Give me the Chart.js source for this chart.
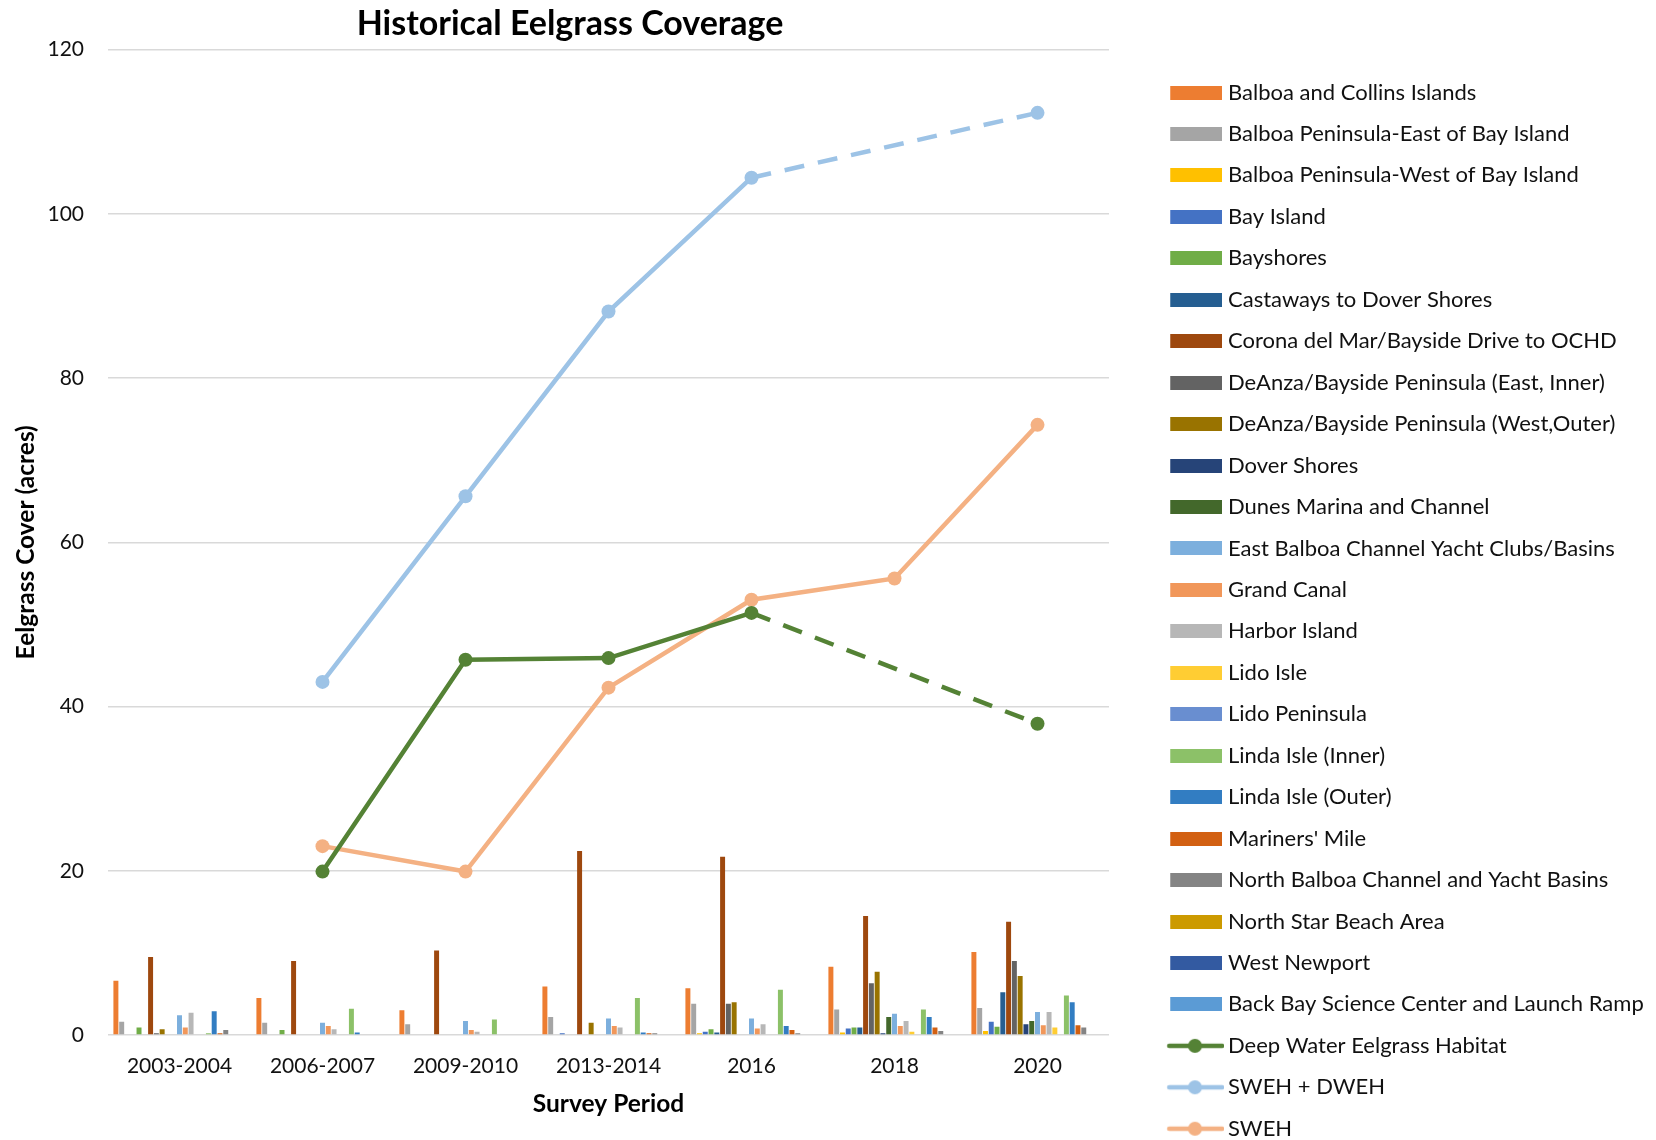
<!DOCTYPE html>
<html>
<head>
<meta charset="utf-8">
<script src="https://cdn.jsdelivr.net/npm/chart.js@4/dist/chart.umd.min.js"></script>
<style>
html,body{margin:0;padding:0;background:#fff;}
#wrap{width:1656px;height:1140px;position:relative;}
</style>
</head>
<body>
<div id="wrap"><canvas id="c" width="1656" height="1140"></canvas></div>
<script>
// ---------------- DATA ----------------
const chartTitle = 'Historical Eelgrass Coverage';
const xAxisTitle = 'Survey Period';
const yAxisTitle = 'Eelgrass Cover (acres)';
const categories = ['2003-2004', '2006-2007', '2009-2010', '2013-2014', '2016', '2018', '2020'];

const balboaCollins      = [6.6, 4.5, 3.0, 5.9, 5.7, 8.3, 10.1];
const balboaPenEast      = [1.6, 1.5, 1.3, 2.2, 3.8, 3.1, 3.3];
const balboaPenWest      = [0, 0, 0, 0.1, 0.2, 0.3, 0.5];
const bayIsland          = [0.1, 0, 0, 0.2, 0.4, 0.8, 1.6];
const bayshores          = [0.9, 0.6, 0, 0.1, 0.7, 0.9, 1.0];
const castaways          = [0.1, 0, 0, 0, 0.3, 0.9, 5.2];
const coronaDelMar       = [9.5, 9.0, 10.3, 22.4, 21.7, 14.5, 13.8];
const deAnzaEast         = [0.2, 0, 0, 0, 3.8, 6.3, 9.0];
const deAnzaWest         = [0.7, 0, 0, 1.5, 4.0, 7.7, 7.2];
const doverShores        = [0, 0, 0, 0, 0.1, 0.2, 1.3];
const dunesMarina        = [0, 0, 0, 0, 0, 2.2, 1.7];
const eastBalboaChannel  = [2.4, 1.5, 1.7, 2.0, 2.0, 2.6, 2.8];
const grandCanal         = [0.9, 1.1, 0.6, 1.1, 0.8, 1.1, 1.2];
const harborIsland       = [2.7, 0.7, 0.4, 0.9, 1.3, 1.7, 2.8];
const lidoIsle           = [0, 0, 0, 0, 0, 0.4, 0.9];
const lidoPeninsula      = [0, 0, 0, 0, 0, 0, 0];
const lindaIsleInner     = [0.2, 3.2, 1.9, 4.5, 5.5, 3.1, 4.8];
const lindaIsleOuter     = [2.9, 0.3, 0, 0.3, 1.1, 2.2, 4.0];
const marinersMile       = [0.2, 0, 0, 0.2, 0.6, 0.9, 1.2];
const northBalboaChannel = [0.6, 0.1, 0.1, 0.2, 0.2, 0.5, 0.9];
const northStarBeach     = [0, 0, 0, 0, 0, 0, 0];
const westNewport        = [0, 0, 0, 0, 0, 0, 0];
const backBayScience     = [0, 0, 0, 0, 0, 0, 0.1];

const deepWater = [null, 19.9, 45.7, 45.9, 51.4, null, 37.9];
const swehDweh  = [null, 43.0, 65.6, 88.1, 104.4, null, 112.3];
const sweh      = [null, 23.0, 19.9, 42.3, 53.0, 55.6, 74.3];

const barLabels = [
  'Balboa and Collins Islands', 'Balboa Peninsula-East of Bay Island', 'Balboa Peninsula-West of Bay Island',
  'Bay Island', 'Bayshores', 'Castaways to Dover Shores', 'Corona del Mar/Bayside Drive to OCHD',
  'DeAnza/Bayside Peninsula (East, Inner)', 'DeAnza/Bayside Peninsula (West,Outer)', 'Dover Shores',
  'Dunes Marina and Channel', 'East Balboa Channel Yacht Clubs/Basins', 'Grand Canal', 'Harbor Island',
  'Lido Isle', 'Lido Peninsula', 'Linda Isle (Inner)', 'Linda Isle (Outer)', "Mariners' Mile",
  'North Balboa Channel and Yacht Basins', 'North Star Beach Area', 'West Newport',
  'Back Bay Science Center and Launch Ramp'
];
const barValues = [
  balboaCollins, balboaPenEast, balboaPenWest, bayIsland, bayshores, castaways, coronaDelMar,
  deAnzaEast, deAnzaWest, doverShores, dunesMarina, eastBalboaChannel, grandCanal, harborIsland,
  lidoIsle, lidoPeninsula, lindaIsleInner, lindaIsleOuter, marinersMile, northBalboaChannel,
  northStarBeach, westNewport, backBayScience
];
const lineLabels = ['Deep Water Eelgrass Habitat', 'SWEH + DWEH', 'SWEH'];
const lineValues = [deepWater, swehDweh, sweh];

// ---------------- STYLE ----------------
const barColors = [
  '#ED7D31', '#A5A5A5', '#FFC000', '#4472C4', '#70AD47', '#255E91', '#9E480E',
  '#636363', '#997300', '#264478', '#43682B', '#7CAFDD', '#F1975A', '#B7B7B7',
  '#FFCD33', '#698ED0', '#8CC168', '#327DC2', '#D26012', '#848484', '#CC9A00',
  '#335AA1', '#5B9BD5'
];
const lineColors = ['#548235', '#9DC3E6', '#F4B183'];

const FONT = 'Lato';
const TEXT = '#111111';
const CANVAS_W = 1656;
const CHART_TOP = 49.6, CHART_BOTTOM = 1035, CHART_LEFT = 108, CHART_RIGHT = 1109;
const PAD_BOTTOM = -60;
const AXIS_TITLE_SIZE = 24.5;
const LEG_FONT = 22, LEG_ROW = 41.45, LEG_FIRST_Y = 92.5, LEG_TEXT_X = 1228;
const LEG_PAD = LEG_ROW - LEG_FONT;
const LEG_TITLE_H = LEG_FIRST_Y - CHART_TOP - LEG_PAD - LEG_FONT / 2;
const LEG_BW = LEG_TEXT_X - LEG_FONT / 2 - (CHART_RIGHT + LEG_PAD);
const LEG_CX = CHART_RIGHT + LEG_PAD + LEG_BW / 2;

Chart.defaults.font.family = FONT;
Chart.defaults.color = TEXT;

// legend swatch images
function barSwatch(color) {
  const w = Math.round(2 * (1222 - LEG_CX));
  const c = document.createElement('canvas');
  c.width = w; c.height = 14;
  const g = c.getContext('2d');
  g.fillStyle = color;
  g.fillRect(w - 52, 0, 52, 14);
  return c;
}
function lineSwatch(color) {
  const w = Math.round(2 * (1224 - LEG_CX));
  const c = document.createElement('canvas');
  c.width = w; c.height = 16;
  const g = c.getContext('2d');
  const left = w - 57;
  g.strokeStyle = color; g.lineWidth = 4.5; g.lineCap = 'round';
  g.beginPath(); g.moveTo(left + 2, 8); g.lineTo(w - 2, 8); g.stroke();
  g.fillStyle = color;
  g.beginPath(); g.arc(1195 - (LEG_CX - w / 2), 8, 7, 0, Math.PI * 2); g.fill();
  return c;
}

// legend width so that the plot ends at CHART_RIGHT
const mctx = document.createElement('canvas').getContext('2d');
mctx.font = LEG_FONT + 'px ' + FONT;
const allLabels = barLabels.concat(lineLabels);
const maxTextW = Math.max(...allLabels.map(t => mctx.measureText(t).width));
const legendFitW = LEG_PAD + LEG_BW + LEG_FONT / 2 + maxTextW + 10;
const PAD_RIGHT = Math.max(0, CANVAS_W - CHART_RIGHT - legendFitW);

const datasets = [];
barValues.forEach((vals, i) => {
  datasets.push({
    type: 'bar', label: barLabels[i], data: vals, order: 2,
    backgroundColor: barColors[i], borderWidth: 0,
    categoryPercentage: 0.93, barPercentage: 0.86,
    _swatch: barSwatch(barColors[i])
  });
});
lineValues.forEach((vals, i) => {
  datasets.push({
    type: 'line', label: lineLabels[i], data: vals, order: 1,
    borderColor: lineColors[i], backgroundColor: lineColors[i],
    borderWidth: 4.5, pointRadius: 7, pointBorderWidth: 0,
    pointBackgroundColor: lineColors[i], spanGaps: true, tension: 0,
    segment: {
      borderDash: ctx => ((ctx.p0.skip || ctx.p1.skip) ? [20, 14] : undefined)
    },
    _swatch: lineSwatch(lineColors[i])
  });
});

const titlePlugin = {
  id: 'plotTitle',
  afterDraw(chart) {
    const g = chart.ctx;
    g.save();
    g.font = 'bold 34px ' + FONT;
    g.fillStyle = '#000';
    g.textAlign = 'center';
    g.textBaseline = 'middle';
    g.fillText(chartTitle, 570, 24);
    g.restore();
  }
};

new Chart(document.getElementById('c'), {
  data: { labels: categories, datasets },
  plugins: [titlePlugin],
  options: {
    responsive: false,
    animation: false,
    devicePixelRatio: 1,
    layout: { padding: { top: CHART_TOP, bottom: PAD_BOTTOM, left: 0, right: PAD_RIGHT } },
    plugins: {
      title: { display: false },
      tooltip: { enabled: false },
      legend: {
        position: 'right',
        align: 'start',
        maxWidth: CANVAS_W - CHART_RIGHT,
        title: { display: true, text: '', font: { size: 8 }, padding: { top: LEG_TITLE_H - 9.6, bottom: 0 } },
        labels: {
          usePointStyle: true,
          pointStyleWidth: LEG_BW,
          font: { family: FONT, size: LEG_FONT },
          color: TEXT,
          padding: LEG_PAD,
          generateLabels: chart => chart.data.datasets.map((ds, i) => ({
            text: ds.label,
            fillStyle: ds.backgroundColor,
            strokeStyle: 'rgba(0,0,0,0)',
            lineWidth: 0,
            pointStyle: ds._swatch,
            fontColor: TEXT,
            hidden: false,
            datasetIndex: i
          }))
        }
      }
    },
    scales: {
      x: {
        grid: { display: false, drawTicks: false },
        border: { display: false },
        ticks: { font: { size: 21 }, color: TEXT, padding: 18.4 },
        title: { display: true, text: xAxisTitle, color: '#000', font: { size: AXIS_TITLE_SIZE, weight: 'bold' }, padding: { top: 0, bottom: 1200 - 1104 - AXIS_TITLE_SIZE * 0.6 } },
        afterFit: s => { s.height = (1140 - PAD_BOTTOM) - CHART_BOTTOM; }
      },
      y: {
        min: 0, max: 120,
        ticks: { stepSize: 20, font: { size: 21 }, color: TEXT, padding: 24 },
        grid: { color: '#D9D9D9', lineWidth: 1.5, drawTicks: false },
        border: { display: false },
        title: { display: true, text: yAxisTitle, color: '#000', font: { size: AXIS_TITLE_SIZE, weight: 'bold' }, padding: { top: 26.4 - AXIS_TITLE_SIZE * 0.6, bottom: 0 } },
        afterFit: s => { s.width = CHART_LEFT; }
      }
    }
  }
});
</script>
</body>
</html>
